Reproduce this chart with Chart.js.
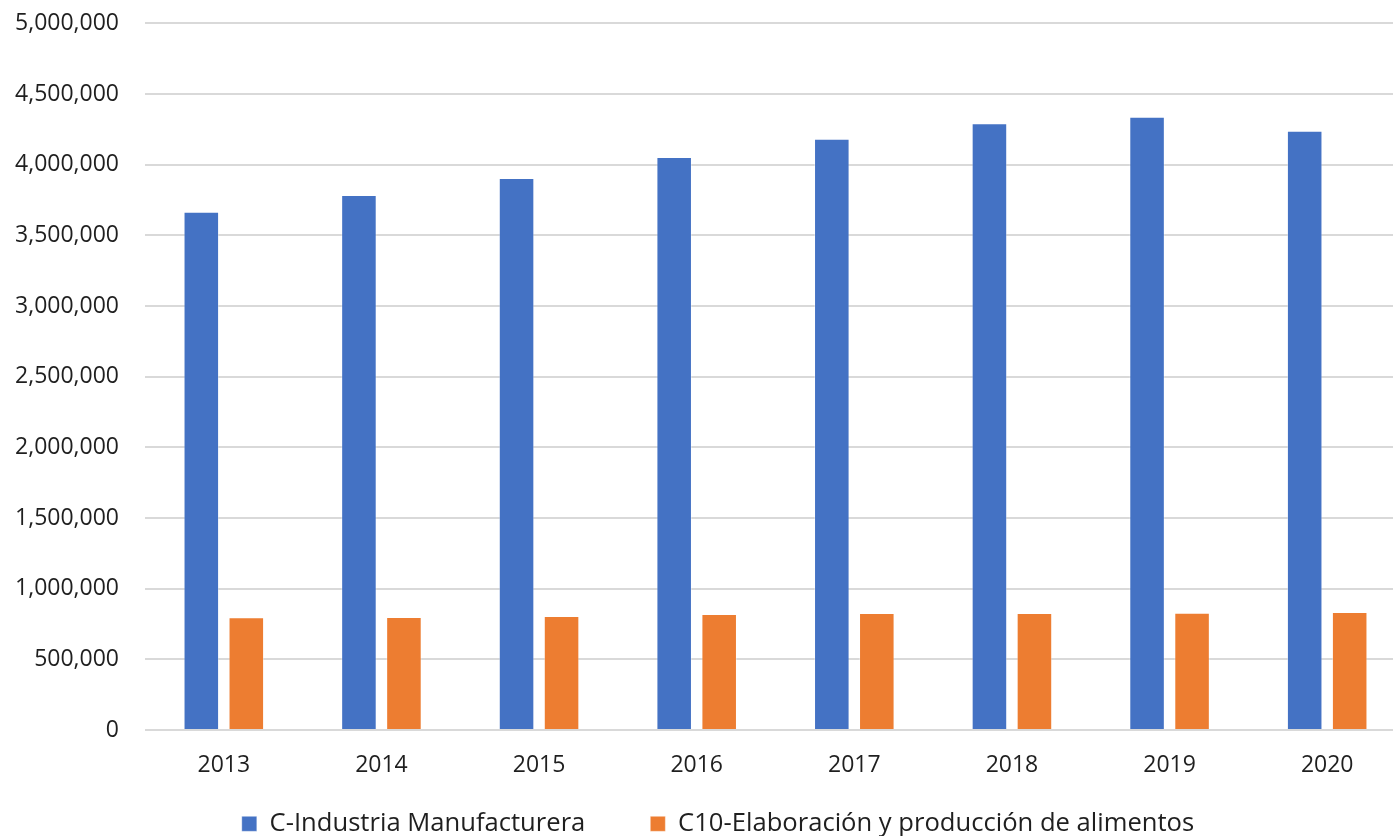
<!DOCTYPE html>
<html>
<head>
<meta charset="utf-8">
<script src="https://cdn.jsdelivr.net/npm/chart.js@4/dist/chart.umd.min.js"></script>
<style>
  html, body { margin: 0; padding: 0; background: #fff; overflow: hidden; }
  #wrap { position: relative; width: 1406px; height: 836px; }
</style>
</head>
<body>
<div id="wrap"><canvas id="chart"></canvas></div>
<script>
// Data
const years = ['2013', '2014', '2015', '2016', '2017', '2018', '2019', '2020'];
const manufacturera = [3667000, 3785000, 3906000, 4054000, 4184000, 4292000, 4339000, 4240000];
const alimentos = [797000, 800000, 807000, 820000, 828000, 828000, 830000, 835000];
const seriesNames = ['C-Industria Manufacturera', 'C10-Elaboración y producción de alimentos'];

const textColor = '#1f1f1f';
const gridColor = '#d9d9d9';
const fontFamily = "'Open Sans', sans-serif";

// legend sits a bit right of centre and low in the picture; move it after layout
const legendPlace = {
    id: 'legendPlace',
    afterLayout(chart) {
        const lg = chart.legend;
        if (!lg) return;
        lg.left += 15;
        lg.right += 15;
        lg.top = 746;
        lg.bottom = 836;
    }
};

const ctx = document.getElementById('chart').getContext('2d');

new Chart(ctx, {
    type: 'bar',
    data: {
        labels: years,
        datasets: [
            {
                label: seriesNames[0],
                data: manufacturera,
                backgroundColor: '#4472c4',
                borderColor: 'rgba(255,255,255,0.35)',
                borderWidth: 1
            },
            {
                label: seriesNames[1],
                data: alimentos,
                backgroundColor: '#ed7d31',
                borderColor: 'rgba(255,255,255,0.35)',
                borderWidth: 1
            }
        ]
    },
    plugins: [legendPlace],
    options: {
        responsive: true,
        maintainAspectRatio: false,
        animation: false,
        categoryPercentage: 0.571,
        barPercentage: 0.79,
        layout: {
            padding: { left: 0, right: 0, top: 0, bottom: 0 }
        },
        plugins: {
            tooltip: { enabled: false },
            legend: {
                position: 'bottom',
                maxHeight: 60,
                labels: {
                    boxWidth: 15,
                    boxHeight: 15,
                    padding: 65,
                    color: textColor,
                    font: { family: fontFamily, size: 25.6 }
                }
            }
        },
        scales: {
            x: {
                afterFit: (scale) => { scale.height = 46; },
                grid: { display: false, drawTicks: false },
                border: { display: false },
                ticks: {
                    color: textColor,
                    padding: 22,
                    maxRotation: 0,
                    font: { family: fontFamily, size: 23 }
                }
            },
            y: {
                min: 0,
                max: 5000000,
                afterFit: (scale) => {
                    scale.width = 145;
                    scale.paddingTop = 23.3;
                    scale.paddingBottom = 14;
                },
                grid: { color: gridColor, lineWidth: 2, drawTicks: false },
                border: { display: false },
                ticks: {
                    stepSize: 500000,
                    color: textColor,
                    padding: 26,
                    font: { family: fontFamily, size: 23 },
                    callback: (value) => value.toLocaleString('en-US')
                }
            }
        }
    }
});
</script>
</body>
</html>
